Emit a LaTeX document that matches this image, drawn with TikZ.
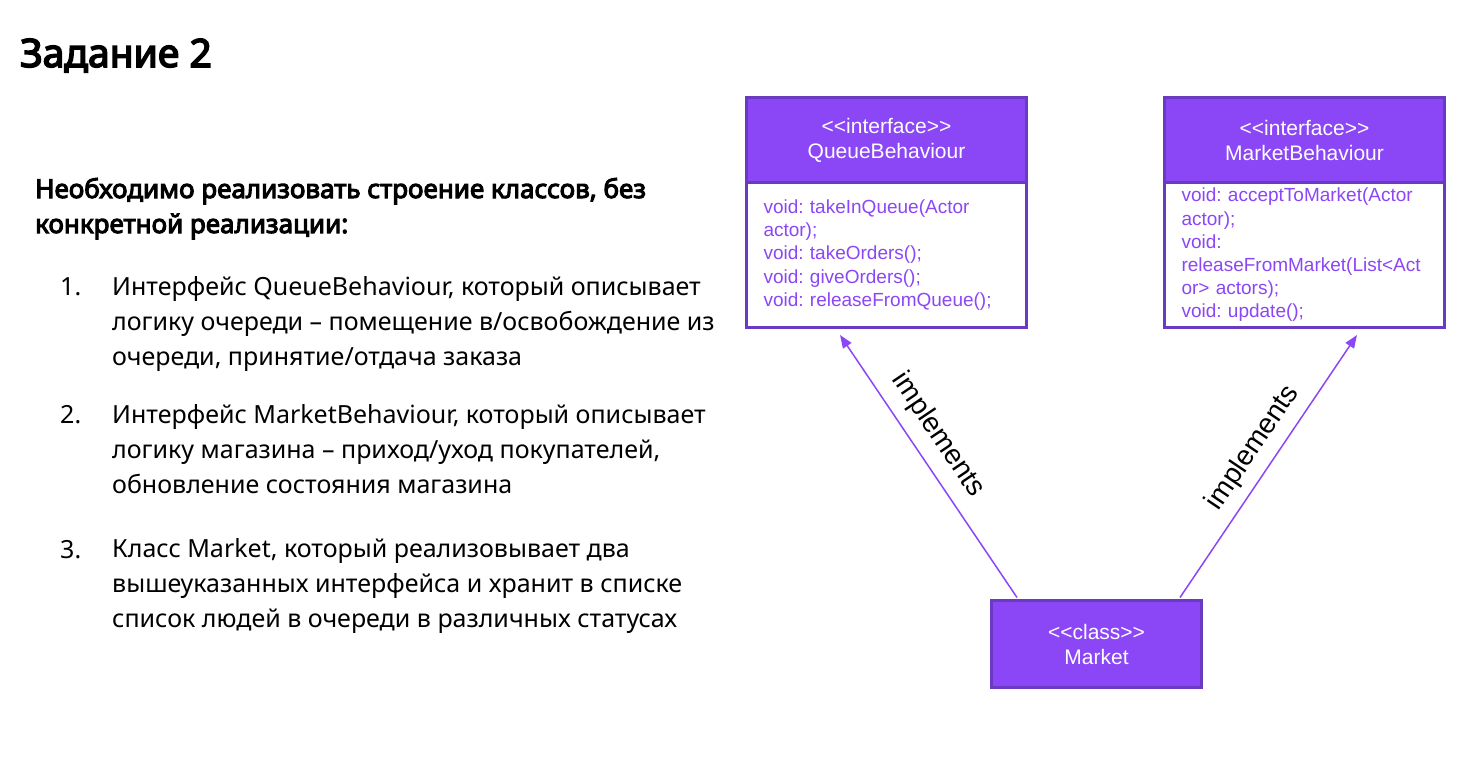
\documentclass[tikz,border=0pt]{standalone}
\usepackage{fontspec}
\setmainfont{Noto Sans}
\newfontfamily\heavyf{Noto Sans}[FakeBold=4]
\newfontfamily\arialf{Liberation Sans}
\usetikzlibrary{arrows.meta}
\definecolor{umlfill}{HTML}{8B46F6}
\definecolor{umlborder}{HTML}{6A3AC2}
\definecolor{umltext}{HTML}{8B46F6}
\tikzset{
  txt/.style={inner sep=0pt, anchor=base west, align=left, font=\fontsize{25}{35}\selectfont},
  hdr/.style={draw=umlborder, fill=umlfill, line width=3pt, minimum width=280pt, text=white, align=center, anchor=north west, inner sep=0pt, font=\arialf\frenchspacing\fontsize{21}{25}\selectfont},
  bodybox/.style={draw=umlborder, fill=white, line width=3pt, minimum height=145pt, text width=246pt, inner xsep=17pt, inner ysep=0pt, align=left, anchor=north west, text=umltext, font=\arialf\frenchspacing\fontsize{19}{23.2}\selectfont},
  arr/.style={draw=umltext, line width=1.5pt, -{Triangle[length=13pt,width=10pt]}},
  lbl/.style={inner sep=0pt, font=\arialf\fontsize{28}{30}\selectfont}
}
\begin{document}
\begin{tikzpicture}[x=1pt,y=-1pt]
\useasboundingbox (0,0) rectangle (1472,763);
% left text (anchor = baseline of the last line)
\node[txt, font=\heavyf\fontsize{39}{40}\selectfont] (title) at (20,67) {Задание 2};
\node[txt, font=\heavyf\fontsize{26}{35}\selectfont] (intro) at (35,233) {Необходимо реализовать строение классов, без\\конкретной реализации:};
\node[txt] (n1) at (60,295) {1.};
\node[txt] (t1) at (112,365) {Интерфейс QueueBehaviour, который описывает\\логику очереди – помещение в/освобождение из\\очереди, принятие/отдача заказа};
\node[txt] (n2) at (60,423) {2.};
\node[txt] (t2) at (112,493) {Интерфейс MarketBehaviour, который описывает\\логику магазина – приход/уход покупателей,\\обновление состояния магазина};
\node[txt] (n3) at (60,558) {3.};
\node[txt] (t3) at (112,627) {Класс Market, который реализовывает два\\вышеуказанных интерфейса и хранит в списке\\список людей в очереди в различных статусах};
% UML boxes
\node[bodybox] (qb) at (745,181) {void: takeInQueue(Actor\\actor);\\void: takeOrders();\\void: giveOrders();\\void: releaseFromQueue();};
\node[hdr, minimum height=85pt] (qh) at (745,96) {<<interface>>\\QueueBehaviour};
\node[bodybox] (mb) at (1163,181) {void: acceptToMarket(Actor\\actor);\\void:\\releaseFromMarket(List<Act\\or> actors);\\void: update();};
\node[hdr, minimum height=85pt] (mh) at (1163,96) {<<interface>>\\MarketBehaviour};
\node[hdr, minimum width=210pt, minimum height=87pt] (m) at (990,599) {<<class>>\\Market};
% arrows
\draw[arr] ([xshift=27pt,yshift=1.5pt]m.north west) -- ([xshift=95pt,yshift=-6pt]qb.south west);
\draw[arr] ([xshift=190pt,yshift=1.5pt]m.north west) -- ([xshift=194pt,yshift=-6pt]mb.south west);
\node[lbl, rotate=-56] (l1) at (938,435) {implements};
\node[lbl, rotate=56] (l2) at (1253,448) {implements};
\end{tikzpicture}
\end{document}
